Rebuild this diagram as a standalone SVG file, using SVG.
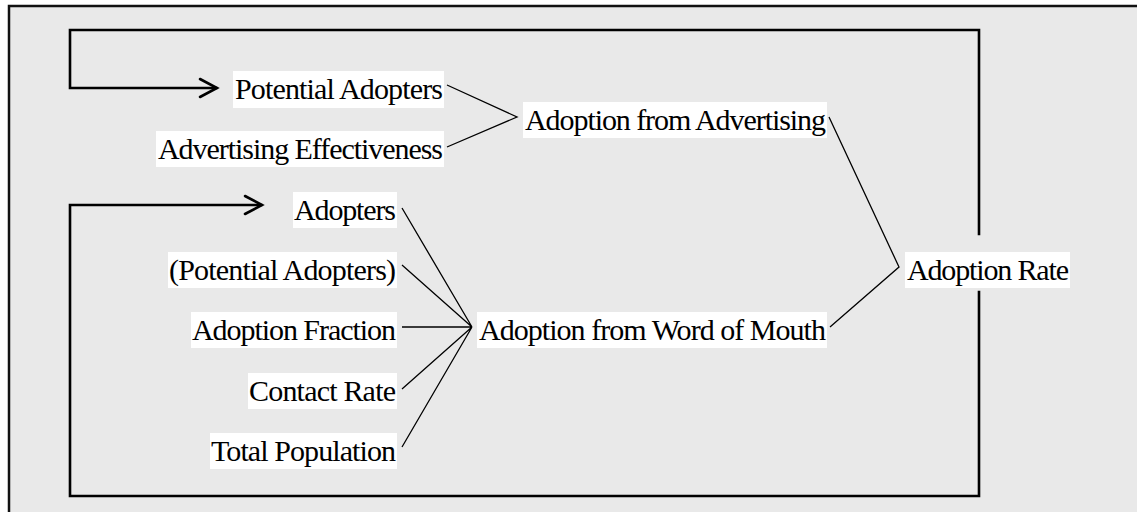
<svg xmlns="http://www.w3.org/2000/svg" width="1137" height="512" viewBox="0 0 1137 512">
<style>
.lbl{font-family:"Liberation Serif","Times New Roman",Times,serif;font-size:30px;fill:#000;text-anchor:end}
.bg{fill:#fff}
.link{stroke:#000;stroke-width:1.3;fill:none}
.loop{stroke:#000;stroke-width:2.6;fill:none;stroke-linecap:square}
.head{stroke:#000;stroke-width:2.6;fill:none;stroke-linecap:round;stroke-linejoin:miter}
</style>
<rect x="0" y="0" width="1137" height="512" fill="#fff"/>
<rect x="9" y="6" width="1200" height="600" fill="#e9e9e9" stroke="#111" stroke-width="2.5"/>
<g id="connectors">
<path class="loop" d="M979,234 V30 H70 V88 H216"/>
<path class="head" d="M200,79 L217,88 L200,97"/>
<path class="loop" d="M979,292 V496 H70 V205 H261"/>
<path class="head" d="M245,196 L262,205 L245,214"/>
<path class="link" d="M447,85 L517,117 L447,147"/>
<path class="link" d="M829,117 L899,267 L830,327"/>
<path class="link" d="M402,208 L472,327 M402,265 L472,327 M402,327 L472,327 M402,389 L472,327 M402,447 L472,327"/>
</g>
<g id="potential-adopters"><rect class="bg" x="233" y="71" width="211" height="37"/><text class="lbl" x="443" y="99" textLength="208" lengthAdjust="spacing">Potential Adopters</text></g>
<g id="advertising-effectiveness"><rect class="bg" x="156" y="131" width="288" height="36"/><text class="lbl" x="443" y="159" textLength="285" lengthAdjust="spacing">Advertising Effectiveness</text></g>
<g id="adoption-from-advertising"><rect class="bg" x="523" y="102" width="304" height="36"/><text class="lbl" x="826" y="130" textLength="301" lengthAdjust="spacing">Adoption from Advertising</text></g>
<g id="adopters"><rect class="bg" x="293" y="192" width="104" height="36"/><text class="lbl" x="396" y="220" textLength="102" lengthAdjust="spacing">Adopters</text></g>
<g id="potential-adopters-2"><rect class="bg" x="168" y="252" width="229" height="36"/><text class="lbl" x="396" y="280" textLength="227" lengthAdjust="spacing">(Potential Adopters)</text></g>
<g id="adoption-fraction"><rect class="bg" x="191" y="312" width="206" height="36"/><text class="lbl" x="396" y="340" textLength="204" lengthAdjust="spacing">Adoption Fraction</text></g>
<g id="contact-rate"><rect class="bg" x="248" y="373" width="149" height="36"/><text class="lbl" x="396" y="401" textLength="147" lengthAdjust="spacing">Contact Rate</text></g>
<g id="total-population"><rect class="bg" x="210" y="433" width="187" height="36"/><text class="lbl" x="396" y="461" textLength="185" lengthAdjust="spacing">Total Population</text></g>
<g id="adoption-from-word-of-mouth"><rect class="bg" x="477" y="312" width="350" height="36"/><text class="lbl" x="826" y="340" textLength="347" lengthAdjust="spacing">Adoption from Word of Mouth</text></g>
<g id="adoption-rate"><rect class="bg" x="905" y="252" width="165" height="36"/><text class="lbl" x="1069" y="280" textLength="162" lengthAdjust="spacing">Adoption Rate</text></g>
</svg>
